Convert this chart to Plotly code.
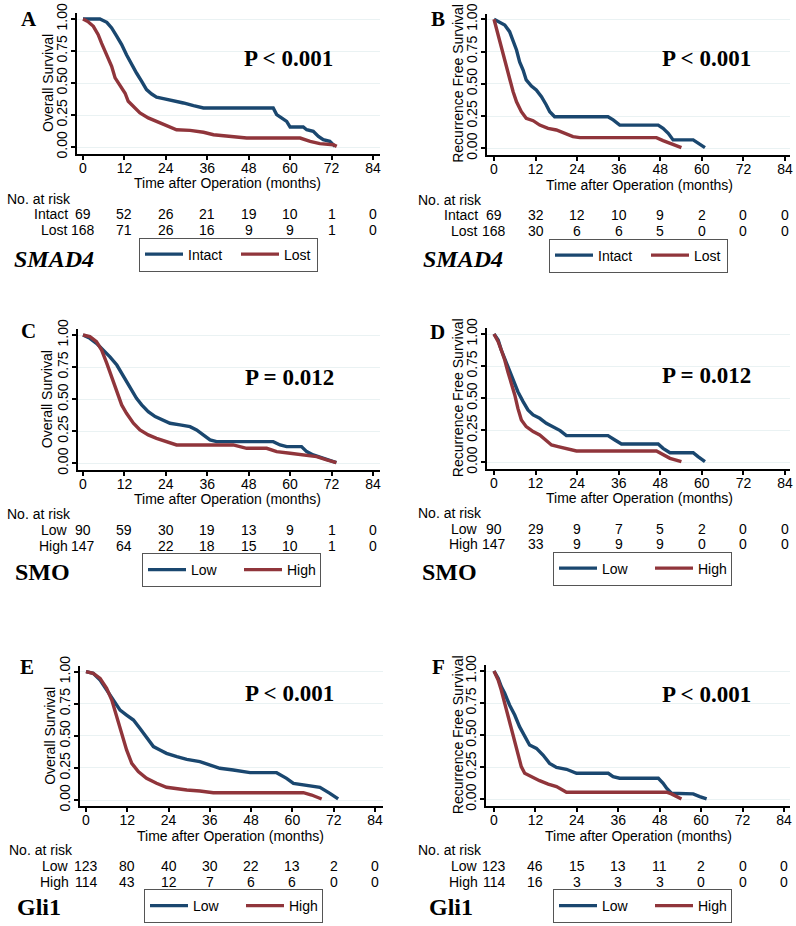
import plotly.graph_objects as go

W, H = 796, 926

# ---------------- data ----------------
month_ticks = [0, 12, 24, 36, 48, 60, 72, 84]
surv_ticks = [0, 0.25, 0.5, 0.75, 1.0]
surv_ticklabels = ["0.00", "0.25", "0.50", "0.75", "1.00"]
x_title = "Time after Operation (months)"
os_title = "Overall Survival"
rfs_title = "Recurrence Free Survival"

# Panel A: SMAD4, overall survival
a_intact_t = [0, 4.9, 6.9, 8.3, 9.8, 11.2, 12.6, 14.1, 15.5, 17.0, 18.4, 19.9, 21.3, 23.3, 26.2, 29.1, 32.0, 34.9,
              55.1, 56.1, 57.5, 59.0, 60.0, 63.8, 64.8, 66.7, 68.2, 69.6, 71.5, 73.0]
a_intact_s = [1.0, 1.0, 0.974, 0.93, 0.865, 0.80, 0.72, 0.643, 0.578, 0.513, 0.448, 0.414, 0.39, 0.378, 0.362, 0.344,
              0.323, 0.305, 0.305, 0.253, 0.227, 0.20, 0.156, 0.156, 0.135, 0.122, 0.083, 0.057, 0.044, 0.005]
a_lost_t = [0, 1.4, 3.0, 4.4, 5.4, 6.9, 8.3, 9.3, 10.7, 12.2, 13.1, 14.6, 16.5, 18.9, 21.3, 24.2, 27.1, 31.0, 34.9,
            37.8, 43.5, 47.4, 62.9, 65.8, 68.6, 72.5, 73.5]
a_lost_s = [1.0, 0.98, 0.943, 0.878, 0.81, 0.72, 0.63, 0.54, 0.487, 0.42, 0.357, 0.318, 0.266, 0.227, 0.20, 0.167,
            0.135, 0.13, 0.115, 0.096, 0.083, 0.07, 0.07, 0.044, 0.026, 0.018, 0.005]
a_risk_intact = [69, 52, 26, 21, 19, 10, 1, 0]
a_risk_lost = [168, 71, 26, 16, 9, 9, 1, 0]

# Panel B: SMAD4, recurrence free survival
b_intact_t = [0, 1.6, 3.1, 4.5, 5.5, 6.5, 7.4, 8.4, 9.3, 10.8, 12.2, 13.7, 15.1, 16.1, 17.5, 32.9, 34.4, 36.3,
              47.4, 48.8, 50.3, 51.7, 57.5, 58.9, 60.9]
b_intact_s = [1.0, 0.98, 0.956, 0.904, 0.84, 0.762, 0.67, 0.607, 0.53, 0.483, 0.452, 0.40, 0.336, 0.284, 0.245,
              0.245, 0.22, 0.18, 0.18, 0.155, 0.116, 0.065, 0.065, 0.04, 0.005]
b_lost_t = [0, 0.7, 1.6, 2.6, 3.6, 4.5, 5.5, 6.5, 7.9, 9.3, 11.3, 13.2, 15.6, 18.0, 20.4, 22.8, 24.8, 46.9, 48.8,
            50.8, 52.7, 54.1]
b_lost_s = [1.0, 0.93, 0.84, 0.736, 0.633, 0.53, 0.44, 0.36, 0.284, 0.232, 0.214, 0.18, 0.155, 0.142, 0.116, 0.09,
            0.083, 0.083, 0.06, 0.039, 0.02, 0.005]
b_risk_intact = [69, 32, 12, 10, 9, 2, 0, 0]
b_risk_lost = [168, 30, 6, 6, 5, 0, 0, 0]

# Panel C: SMO, overall survival
c_low_t = [0, 2.0, 3.9, 5.9, 7.8, 9.8, 11.2, 12.6, 14.1, 15.5, 17.0, 18.9, 20.9, 23.3, 25.2, 28.1, 31.0, 32.9, 34.9,
           36.8, 38.7, 55.1, 57.1, 59.0, 63.3, 64.8, 66.7, 69.6, 72.5, 73.4]
c_low_s = [1.0, 0.974, 0.935, 0.883, 0.83, 0.766, 0.70, 0.636, 0.571, 0.506, 0.455, 0.403, 0.364, 0.338, 0.312, 0.299,
           0.286, 0.26, 0.221, 0.182, 0.169, 0.169, 0.143, 0.13, 0.13, 0.091, 0.065, 0.039, 0.013, 0.005]
c_high_t = [0, 2.0, 3.9, 5.4, 6.9, 8.3, 9.8, 11.2, 12.6, 14.6, 16.5, 18.9, 21.3, 24.2, 27.1, 43.5, 47.4, 53.2, 56.1,
            60.0, 64.8, 67.7, 70.6, 73.4]
c_high_s = [1.0, 0.987, 0.948, 0.883, 0.779, 0.675, 0.571, 0.455, 0.39, 0.312, 0.26, 0.221, 0.195, 0.169, 0.143,
            0.143, 0.117, 0.117, 0.091, 0.078, 0.065, 0.052, 0.026, 0.005]
c_risk_low = [90, 59, 30, 19, 13, 9, 1, 0]
c_risk_high = [147, 64, 22, 18, 15, 10, 1, 0]

# Panel D: SMO, recurrence free survival
d_low_t = [0, 1.2, 2.1, 3.1, 4.0, 5.5, 6.9, 8.4, 9.8, 11.3, 13.2, 15.1, 17.1, 19.1, 20.9, 32.9, 34.9, 36.8, 47.4,
           48.8, 50.8, 57.5, 58.9, 60.9]
d_low_s = [1.0, 0.953, 0.875, 0.81, 0.745, 0.654, 0.55, 0.473, 0.408, 0.369, 0.343, 0.304, 0.273, 0.247, 0.208,
           0.208, 0.174, 0.143, 0.143, 0.109, 0.075, 0.075, 0.044, 0.005]
d_high_t = [0, 1.2, 2.1, 3.1, 4.0, 5.0, 6.0, 6.9, 7.9, 9.3, 11.3, 13.2, 15.1, 16.6, 18.5, 20.9, 23.8, 46.9, 48.8,
            50.8, 54.1]
d_high_s = [1.0, 0.94, 0.875, 0.797, 0.706, 0.616, 0.525, 0.42, 0.33, 0.278, 0.239, 0.213, 0.174, 0.135, 0.122,
            0.109, 0.088, 0.088, 0.062, 0.031, 0.005]
d_risk_low = [90, 29, 9, 7, 5, 2, 0, 0]
d_risk_high = [147, 33, 9, 9, 9, 0, 0, 0]

# Panel E: Gli1, overall survival
e_low_t = [0, 2.1, 4.1, 6.0, 7.9, 9.9, 11.8, 13.8, 15.7, 17.6, 19.6, 21.5, 23.4, 26.4, 29.3, 33.1, 36.0, 38.9, 42.8,
           47.7, 55.4, 58.3, 60.3, 64.1, 68.0, 70.9, 73.3]
e_low_s = [1.0, 0.987, 0.935, 0.857, 0.779, 0.70, 0.662, 0.623, 0.558, 0.494, 0.416, 0.39, 0.364, 0.338, 0.317,
           0.299, 0.273, 0.247, 0.234, 0.213, 0.213, 0.169, 0.13, 0.117, 0.099, 0.052, 0.008]
e_high_t = [0, 2.1, 4.1, 6.0, 7.5, 8.9, 10.4, 11.8, 13.3, 15.2, 17.6, 20.5, 23.4, 25.4, 29.3, 33.1, 37.0, 63.2, 65.6,
            68.5]
e_high_s = [1.0, 0.987, 0.948, 0.87, 0.779, 0.649, 0.519, 0.39, 0.286, 0.221, 0.169, 0.13, 0.099, 0.091, 0.078,
            0.07, 0.057, 0.057, 0.039, 0.008]
e_risk_low = [123, 80, 40, 30, 22, 13, 2, 0]
e_risk_high = [114, 43, 12, 7, 6, 6, 0, 0]

# Panel F: Gli1, recurrence free survival
f_low_t = [0, 1.2, 2.1, 3.1, 4.5, 6.0, 7.4, 8.9, 10.3, 12.3, 14.2, 16.1, 18.1, 21.0, 23.9, 33.1, 34.5, 36.4, 47.6,
           49.0, 50.0, 51.4, 57.7, 59.6, 61.6]
f_low_s = [1.0, 0.943, 0.878, 0.826, 0.735, 0.657, 0.566, 0.488, 0.423, 0.397, 0.345, 0.28, 0.249, 0.234, 0.203,
           0.203, 0.177, 0.164, 0.164, 0.125, 0.086, 0.047, 0.042, 0.021, 0.003]
f_high_t = [0, 1.2, 2.1, 3.1, 4.1, 5.0, 6.0, 7.0, 7.9, 8.9, 10.8, 13.2, 15.7, 18.1, 21.0, 50.0, 51.4, 52.9, 54.3]
f_high_s = [1.0, 0.93, 0.852, 0.748, 0.657, 0.553, 0.462, 0.358, 0.255, 0.203, 0.177, 0.145, 0.119, 0.099, 0.055,
            0.055, 0.042, 0.021, 0.003]
f_risk_low = [123, 46, 15, 13, 11, 2, 0, 0]
f_risk_high = [114, 16, 3, 3, 3, 0, 0, 0]

panel_letters = ["A", "B", "C", "D", "E", "F"]
p_texts = ["P &lt; 0.001", "P &lt; 0.001", "P = 0.012", "P = 0.012", "P &lt; 0.001", "P &lt; 0.001"]
gene_texts = ["<b><i>SMAD4</i></b>", "<b><i>SMAD4</i></b>", "<b>SMO</b>", "<b>SMO</b>", "<b>Gli1</b>", "<b>Gli1</b>"]
y_titles = [os_title, rfs_title, os_title, rfs_title, os_title, rfs_title]
group_names = [("Intact", "Lost"), ("Intact", "Lost"), ("Low", "High"), ("Low", "High"), ("Low", "High"), ("Low", "High")]
curves = [
    ((a_intact_t, a_intact_s), (a_lost_t, a_lost_s)),
    ((b_intact_t, b_intact_s), (b_lost_t, b_lost_s)),
    ((c_low_t, c_low_s), (c_high_t, c_high_s)),
    ((d_low_t, d_low_s), (d_high_t, d_high_s)),
    ((e_low_t, e_low_s), (e_high_t, e_high_s)),
    ((f_low_t, f_low_s), (f_high_t, f_high_s)),
]
risks = [
    (a_risk_intact, a_risk_lost), (b_risk_intact, b_risk_lost), (c_risk_low, c_risk_high),
    (d_risk_low, d_risk_high), (e_risk_low, e_risk_high), (f_risk_low, f_risk_high),
]

# ---------------- geometry (pixels) ----------------
GEOM = [
    dict(L=77, R=380, T=13, B=154, x0=83, ppm=3.452, y1=19, y0=147, letter=(29, 18.5), pval=(288, 58.5),
         gene=(54, 259), nar=(5, 199), rows=(214, 230), lab_r=70, leg=(139, 254.5), xt=183, yt=48),
    dict(L=487, R=790, T=14, B=155, x0=494, ppm=3.464, y1=19.3, y0=148.3, letter=(437.5, 18.5), pval=(706, 59),
         gene=(463, 259), nar=(416, 200), rows=(215, 231), lab_r=480, leg=(549, 255.5), xt=185, yt=458),
    dict(L=78, R=380, T=329, B=470, x0=83, ppm=3.452, y1=335, y0=463.3, letter=(28, 331), pval=(289, 377),
         gene=(42, 572), nar=(5, 514), rows=(530, 546), lab_r=70, leg=(142, 570), xt=499, yt=47),
    dict(L=487, R=790, T=328, B=469, x0=494, ppm=3.464, y1=334, y0=462.3, letter=(437.5, 332), pval=(706, 376),
         gene=(450, 572), nar=(416, 513), rows=(529, 544), lab_r=480, leg=(553, 568.5), xt=498, yt=458),
    dict(L=80, R=383, T=666, B=806, x0=86, ppm=3.44, y1=671.7, y0=800, letter=(27.5, 666.5), pval=(289, 693),
         gene=(39, 907), nar=(7, 850), rows=(866, 882), lab_r=71, leg=(144, 906), xt=835.5, yt=50),
    dict(L=486, R=790, T=665, B=806, x0=494, ppm=3.452, y1=671, y0=799.3, letter=(438, 666.5), pval=(706, 694),
         gene=(451, 907), nar=(416, 850), rows=(866, 882), lab_r=480, leg=(553, 906), xt=835.5, yt=458),
]

BLUE = "#1a476f"
RED = "#90353b"
SANS = "Liberation Sans, Arial, sans-serif"
SERIF = "Liberation Serif, Times New Roman, serif"


def px(x):
    return x / W


def py(y):
    return 1 - y / H


def txt(size, family=SANS):
    return dict(family=family, size=size, color="black")


fig = go.Figure()
layout = dict(
    width=W, height=H, margin=dict(l=0, r=0, t=0, b=0, pad=0, autoexpand=False),
    paper_bgcolor="white", plot_bgcolor="white",
    font=txt(14),
    hovermode=False,
)
annotations = []

for i, g in enumerate(GEOM):
    n = "" if i == 0 else str(i + 1)
    xa, ya = "x" + n, "y" + n
    leg = "legend" + n
    (t1, s1), (t2, s2) = curves[i]
    g1, g2 = group_names[i]
    fig.add_trace(go.Scatter(x=t1, y=s1, mode="lines", name=g1, xaxis=xa, yaxis=ya, legend=leg,
                             legendwidth=43, line=dict(color=BLUE, width=3.4)))
    fig.add_trace(go.Scatter(x=t2, y=s2, mode="lines", name=g2, xaxis=xa, yaxis=ya, legend=leg,
                             legendwidth=28, line=dict(color=RED, width=3.4)))

    xr = [(g["L"] - g["x0"]) / g["ppm"], (g["R"] - g["x0"]) / g["ppm"]]
    ppu = g["y0"] - g["y1"]
    yr = [(g["y0"] - g["B"]) / ppu, (g["y0"] - g["T"]) / ppu]
    layout["xaxis" + n] = dict(
        domain=[px(g["L"]), px(g["R"])], range=xr, anchor=ya, tickmode="array", tickvals=month_ticks,
        ticks="outside", ticklen=4, tickwidth=1.5, tickcolor="black", ticklabelstandoff=-4,
        showline=True, linewidth=2.2, linecolor="black", showgrid=False, zeroline=False,
        tickfont=txt(14), automargin=False,
    )
    layout["yaxis" + n] = dict(
        domain=[py(g["B"]), py(g["T"])], range=yr, anchor=xa, tickmode="array", tickvals=surv_ticks,
        ticktext=surv_ticklabels, tickangle=-90,
        ticks="outside", ticklen=4, tickwidth=1.5, tickcolor="black", ticklabelstandoff=-2,
        showline=True, linewidth=2.2, linecolor="black", showgrid=True, gridcolor="#eaf2f3", gridwidth=1,
        zeroline=False, tickfont=txt(14), automargin=False,
    )
    layout[leg] = dict(
        x=px(g["leg"][0]), y=py(g["leg"][1]), xanchor="left", yanchor="middle", orientation="h",
        bgcolor="white", bordercolor="#555555", borderwidth=1, itemwidth=38,
        font=txt(14),
    )

    # axis titles
    annotations.append(dict(text=x_title, x=42, y=py(g["xt"]), xref=xa, yref="paper",
                            xanchor="center", yanchor="middle", showarrow=False, font=txt(14)))
    annotations.append(dict(text=y_titles[i], x=px(g["yt"]), y=0.5, xref="paper", yref=ya, textangle=-90,
                            xanchor="center", yanchor="middle", showarrow=False, font=txt(14)))
    # panel letter
    annotations.append(dict(text="<b>%s</b>" % panel_letters[i], x=px(g["letter"][0]), y=py(g["letter"][1]),
                            xref="paper", yref="paper", xanchor="center", yanchor="middle", showarrow=False,
                            font=txt(21, SERIF)))
    # p value
    annotations.append(dict(text="<b>%s</b>" % p_texts[i], x=px(g["pval"][0]), y=py(g["pval"][1]),
                            xref="paper", yref="paper", xanchor="center", yanchor="middle", showarrow=False,
                            font=txt(23, SERIF)))
    # gene label
    annotations.append(dict(text=gene_texts[i], x=px(g["gene"][0]), y=py(g["gene"][1]),
                            xref="paper", yref="paper", xanchor="center", yanchor="middle", showarrow=False,
                            font=txt(24, SERIF)))
    # number at risk
    annotations.append(dict(text="No. at risk", x=px(g["nar"][0]), y=py(g["nar"][1]),
                            xref="paper", yref="paper", xanchor="left", yanchor="middle", showarrow=False,
                            font=txt(14)))
    for name, row_y, vals in zip((g1, g2), g["rows"], risks[i]):
        annotations.append(dict(text=name, x=px(g["lab_r"]), y=py(row_y), xref="paper", yref="paper",
                                xanchor="right", yanchor="middle", showarrow=False, font=txt(14)))
        for tv, v in zip(month_ticks, vals):
            annotations.append(dict(text=str(v), x=tv, y=py(row_y), xref=xa, yref="paper",
                                    xanchor="center", yanchor="middle", showarrow=False, font=txt(14)))

layout["annotations"] = annotations
fig.update_layout(**layout)

page_fix = (
    "document.body.style.margin='0';document.body.style.padding='0';"
    "document.documentElement.style.overflow='hidden';"
    "var d=document.getElementsByClassName('plotly-graph-div')[0];"
    "if(d){d.style.position='absolute';d.style.left='0px';d.style.top='0px';}"
)
fig.write_html("out.html", config={"displayModeBar": False}, post_script=page_fix)
